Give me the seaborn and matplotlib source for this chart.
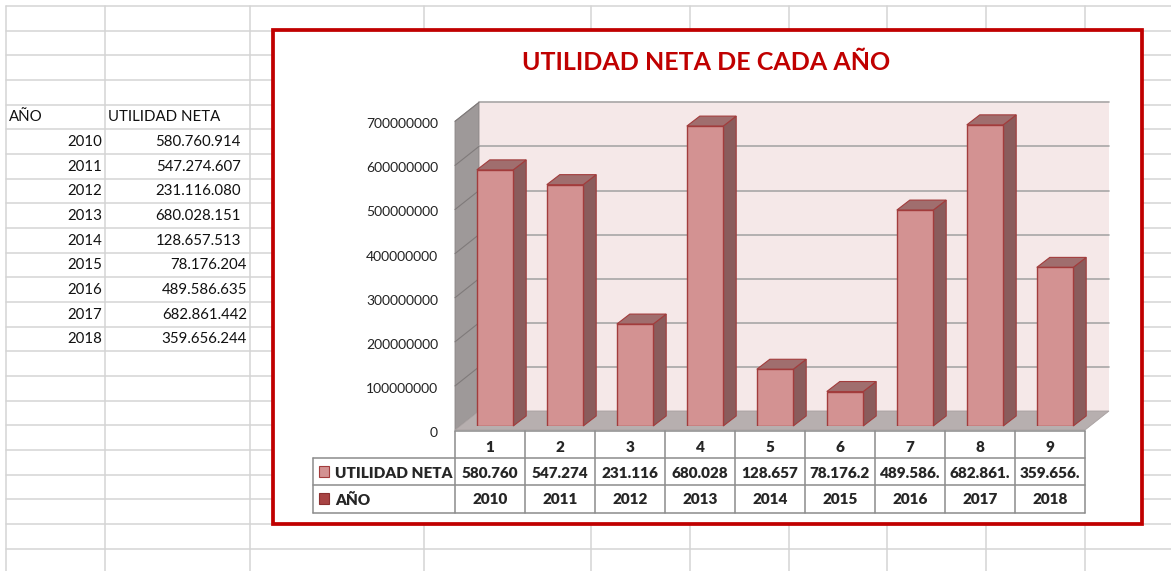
import numpy as np
import pandas as pd
import matplotlib.pyplot as plt
import seaborn as sns
from matplotlib.patches import Polygon, Rectangle
from matplotlib.transforms import IdentityTransform, ScaledTranslation

# Utilidad neta por año (hoja de Excel + gráfico 3D con tabla de datos)

anios = [2010, 2011, 2012, 2013, 2014, 2015, 2016, 2017, 2018]
utilidad = [580760914, 547274607, 231116080, 680028151, 128657513,
            78176204, 489586635, 682861442, 359656244]
serie = ["1", "2", "3", "4", "5", "6", "7", "8", "9"]
# lo que cabe en cada celda de la tabla del gráfico
etiquetas_tabla = ["580.760", "547.274", "231.116", "680.028", "128.657",
                   "78.176.2", "489.586.", "682.861.", "359.656."]
yticks = [0, 100000000, 200000000, 300000000, 400000000,
          500000000, 600000000, 700000000]

df = pd.DataFrame({"serie": serie, "utilidad": utilidad, "anio": anios})

sns.set_style("white")
plt.rcParams["font.family"] = ["Lato", "DejaVu Sans"]

W, H = 1171, 571
fig = plt.figure(figsize=(W / 100, H / 100), dpi=100)

# fondo en pixeles de la imagen (y hacia abajo)
bg = fig.add_axes([0, 0, 1, 1], zorder=0)
bg.set_xlim(0, W)
bg.set_ylim(H, 0)
bg.axis("off")


def fr(x0, y0, x1, y1):
    return [x0 / W, 1 - y1 / H, (x1 - x0) / W, (y1 - y0) / H]


# cuadricula de la hoja
grid_col = "#d4d4d4"
for x in [6, 105, 250, 424, 591, 690, 789, 887, 986, 1085]:
    bg.plot([x, x], [6, H], color=grid_col, lw=1.1, zorder=1)
for y in np.arange(6, H, 24.66):
    bg.plot([6, W], [y, y], color=grid_col, lw=1.1, zorder=1)

# datos de la hoja
txt = "#111111"
bg.text(9, 117, "AÑO", fontsize=10.8, color=txt, va="center", ha="left", zorder=2)
bg.text(108, 117, "UTILIDAD NETA", fontsize=10.8, color=txt, va="center", ha="left", zorder=2)
for i, (a, u) in enumerate(zip(anios, utilidad)):
    y = 142 + 24.66 * i
    bg.text(102, y, str(a), fontsize=10.8, color=txt, va="center", ha="right", zorder=2)
    s = f"{u:,}".replace(",", ".")
    bg.text(241 if i < 5 else 247, y, s, fontsize=10.8, color=txt,
            va="center", ha="right", zorder=2)

# marco del grafico
bg.add_patch(Rectangle((273, 30), 869, 494, facecolor="white",
                       edgecolor="#c00000", lw=2.7, zorder=3))
bg.text(706, 62, "UTILIDAD NETA DE CADA AÑO", fontsize=18, fontweight="bold",
        color="#c00000", ha="center", va="center", zorder=4)

# plano frontal de las barras
ax = fig.add_axes(fr(460, 117.3, 1090, 426), zorder=2)
ax.patch.set_alpha(0)

cara = "#d39292"
borde = "#a23c3c"
sns.barplot(data=df, x="serie", y="utilidad", color=cara, edgecolor=borde,
            linewidth=1, width=0.52, saturation=1, ax=ax)
ax.set_xlim(-0.5, 8.5)
ax.set_ylim(0, 700000000)
ax.set_xticks([])
ax.set_yticks(yticks)
ax.set_yticklabels([str(t) for t in yticks])
ax.tick_params(axis="y", length=0, pad=15.8, labelsize=10, labelcolor="#222222")
for lab in ax.get_yticklabels():
    lab.set_transform(lab.get_transform() + ScaledTranslation(0, -6 / 100, fig.dpi_scale_trans))
ax.set_xlabel("")
ax.set_ylabel("")
for s in ax.spines.values():
    s.set_visible(False)


def img_px(x, v):
    dx, dy = ax.transData.transform((x, v))
    return dx, H - dy


def front(x, v):
    px, py = img_px(x, v)
    return px - 5, py + 4


def back(x, v):
    px, py = img_px(x, v)
    return px + 19, py - 15


top_v = yticks[-1]
# paredes y piso
bg.add_patch(Polygon([back(-0.5, 0), back(8.5, 0), back(8.5, top_v), back(-0.5, top_v)],
                     facecolor="#f5e8e8", edgecolor="none", zorder=5))
bg.add_patch(Polygon([front(-0.5, 0), back(-0.5, 0), back(-0.5, top_v), front(-0.5, top_v)],
                     facecolor="#9e9999", edgecolor="#8a8585", lw=0.6, zorder=5))
for v in yticks[1:]:
    (x0, y0), (x1, y1) = back(-0.5, v), back(8.5, v)
    bg.plot([x0, x1], [y0, y1], color="#a8a6a6", lw=1.2, zorder=6)
    (x0, y0), (x1, y1) = front(-0.5, v), back(-0.5, v)
    bg.plot([x0, x1], [y0, y1], color="#7f7a7a", lw=0.8, zorder=6)
bg.add_patch(Polygon([front(-0.5, 0), front(8.5, 0), back(8.5, 0), back(-0.5, 0)],
                     facecolor="#b7afaf", edgecolor="#a8a0a0", lw=0.6, zorder=6))

# caras laterales y superiores de las barras
for p in ax.patches:
    (x0, y0), (x1, y1) = ax.transData.transform([(p.get_x(), p.get_y()),
                                                 (p.get_x() + p.get_width(), p.get_y() + p.get_height())])
    ddx, ddy = 13, 10
    ax.add_patch(Polygon([(x1, y0), (x1 + ddx, y0 + ddy), (x1 + ddx, y1 + ddy), (x1, y1)],
                         facecolor="#8a5c5c", edgecolor=borde, lw=0.8,
                         transform=IdentityTransform(), clip_on=False, zorder=1))
    ax.add_patch(Polygon([(x0, y1), (x1, y1), (x1 + ddx, y1 + ddy), (x0 + ddx, y1 + ddy)],
                         facecolor="#a06e6e", edgecolor=borde, lw=0.8,
                         transform=IdentityTransform(), clip_on=False, zorder=1))
    p.set_zorder(2)

# tabla de datos bajo el grafico
tcol = "#8c8c8c"
edges = [front(i - 0.5, 0)[0] for i in range(len(serie) + 1)]
rows = [431, 458, 485, 513]
left = 313
for x in edges:
    bg.plot([x, x], [rows[0], rows[3]], color=tcol, lw=1.1, zorder=7)
bg.plot([left, left], [rows[1], rows[3]], color=tcol, lw=1.1, zorder=7)
bg.plot([edges[0], edges[-1]], [rows[0], rows[0]], color=tcol, lw=1.1, zorder=7)
for y in rows[1:]:
    bg.plot([left, edges[-1]], [y, y], color=tcol, lw=1.1, zorder=7)

tw = "heavy"
for i in range(len(serie)):
    cx = (edges[i] + edges[i + 1]) / 2
    bg.text(cx, 448, serie[i], fontsize=11, fontweight=tw, ha="center", va="center", zorder=8)
    bg.text(cx, 473, etiquetas_tabla[i], fontsize=11, fontweight=tw, ha="center", va="center", zorder=8)
    bg.text(cx, 500, str(anios[i]), fontsize=11, fontweight=tw, ha="center", va="center", zorder=8)

bg.add_patch(Rectangle((319, 466), 10, 11, facecolor=cara, edgecolor=borde, lw=0.8, zorder=8))
bg.add_patch(Rectangle((319, 493), 10, 11, facecolor="#a84444", edgecolor="#8b3030", lw=0.8, zorder=8))
bg.text(335, 473, "UTILIDAD NETA", fontsize=11, fontweight=tw, ha="left", va="center", zorder=8)
bg.text(335, 500, "AÑO", fontsize=11, fontweight=tw, ha="left", va="center", zorder=8)

fig.savefig("out.png", dpi=100)
